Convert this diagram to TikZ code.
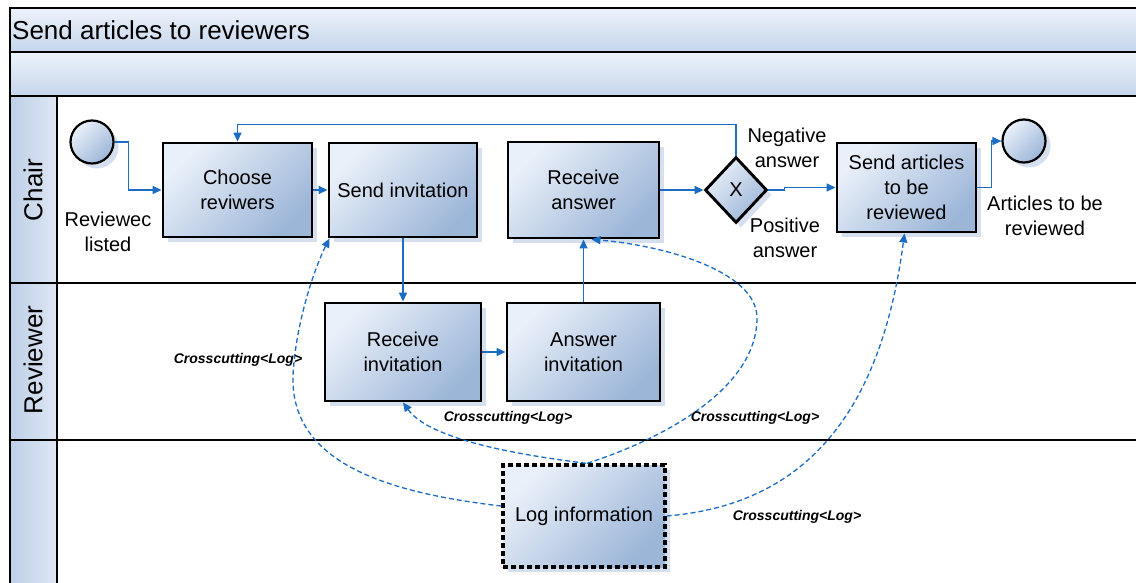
\documentclass[tikz,border=0pt]{standalone}
\usepackage{fontspec}
\setmainfont{Liberation Sans}
\usetikzlibrary{arrows.meta,shapes.geometric}

\definecolor{flowblue}{RGB}{28,108,196}
\definecolor{boxlight}{RGB}{234,240,249}
\definecolor{boxdark}{RGB}{156,182,216}
\definecolor{bandtop}{RGB}{236,242,250}
\definecolor{bandbot}{RGB}{198,214,236}
\definecolor{headl}{RGB}{190,207,231}
\definecolor{headr}{RGB}{222,231,243}
\definecolor{shadowc}{RGB}{214,223,237}

\tikzset{
  x=1pt, y=-1pt,
  boxshadow/.style={preaction={draw=none, fill=shadowc, transform canvas={xshift=5pt, yshift=-5pt}}},
  task/.style={draw=black, line width=2.9pt, top color=boxlight, bottom color=boxdark,
    shading angle=45, align=center, inner sep=0pt, boxshadow,
    font=\fontsize{20}{25}\selectfont},
  logtask/.style={task, line width=3.4pt, dash pattern=on 5pt off 3pt},
  event/.style={circle, draw=black, line width=2.2pt, top color=boxlight, bottom color=boxdark,
    shading angle=45, minimum size=43pt, inner sep=0pt, boxshadow},
  gateway/.style={diamond, draw=black, line width=2.9pt, top color=boxlight, bottom color=boxdark,
    shading angle=45, minimum width=62pt, minimum height=66pt, inner sep=0pt, boxshadow,
    font=\fontsize{20}{24}\selectfont},
  lbl/.style={align=center, font=\fontsize{20}{25}\selectfont, inner sep=0pt},
  xlbl/.style={font=\fontsize{14}{16}\selectfont\bfseries\itshape, inner sep=0pt},
  lanetext/.style={rotate=90, font=\fontsize{26}{30}\selectfont, inner sep=0pt},
  flow/.style={draw=flowblue, line width=1.5pt, -{Triangle[length=9pt,width=8pt]}},
  xflow/.style={draw=flowblue, line width=1.3pt, dash pattern=on 5pt off 3pt,
    -{Triangle[length=9pt,width=8pt]}},
  frame/.style={draw=black, line width=2.6pt},
}

\begin{document}
\begin{tikzpicture}
\useasboundingbox (0,0) rectangle (1136,583);
\clip (0,0) rectangle (1136,583);
\fill[white] (0,0) rectangle (1136,583);

% pool title band and blank band
\shade[top color=bandtop, bottom color=bandbot] (10,8) rectangle (1142,52);
\shade[top color=bandtop, bottom color=bandbot] (10,52) rectangle (1142,96);
% lane headers
\shade[left color=headl, right color=headr] (10,96) rectangle (57,283);
\shade[left color=headl, right color=headr] (10,283) rectangle (57,440);
\shade[left color=headl, right color=headr] (10,440) rectangle (57,590);

% pool and lane borders
\draw[frame] (1142,8) -- (10,8) -- (10,590);
\draw[frame] (10,52) -- (1142,52);
\draw[frame] (10,96) -- (1142,96);
\draw[frame] (10,283) -- (1142,283);
\draw[frame] (10,440) -- (1142,440);
\draw[frame] (57,96) -- (57,590);

\node[anchor=west, font=\fontsize{26}{30}\selectfont, inner sep=0pt] (title) at (12,30) {Send articles to reviewers};
\node[lanetext] (chairlane) at (33,190) {Chair};
\node[lanetext] (reviewerlane) at (33,360) {Reviewer};

% Chair lane
\node[event] (start) at (92,142) {};
\node[lbl] (startlbl) at (108,232) {Reviewec\\listed};
\node[task, minimum width=149pt, minimum height=94pt] (choose) at (237.5,190) {Choose\\reviwers};
\node[task, minimum width=148pt, minimum height=94pt] (sendinv) at (403,190) {Send invitation};
\node[task, minimum width=151pt, minimum height=96pt] (recans) at (583.5,190) {Receive\\answer};
\node[gateway] (gw) at (736,190) {X};
\node[lbl] (neglbl) at (787,148) {Negative\\answer};
\node[lbl] (poslbl) at (785,238) {Positive\\answer};
\node[task, minimum width=139pt, minimum height=89pt] (sendart) at (906.5,187.5) {Send articles\\to be\\reviewed};
\node[event] (end) at (1024,141) {};
\node[lbl] (endlbl) at (1045,216) {Articles to be\\reviewed};

% Reviewer lane
\node[task, minimum width=156pt, minimum height=98pt] (recinv) at (403,352) {Receive\\invitation};
\node[task, minimum width=153pt, minimum height=98pt] (ansinv) at (583.5,352) {Answer\\invitation};

% Aspect lane
\node[logtask, minimum width=162pt, minimum height=102pt] (log) at (584,516) {Log information};

% sequence flows
\draw[flow] (start.east) -- ++(14,0) |- (choose.west);
\draw[flow] (choose) -- (sendinv);
\draw[flow] (sendinv) -- (recinv);
\draw[flow] (recinv) -- (ansinv);
\draw[flow] (ansinv) -- (recans);
\draw[flow] (recans) -- (gw);
\draw[flow] (gw.north) -- ++(0,-31) -| (choose.north);
\draw[flow] (gw.east) -- ++(16,0) |- (sendart.west);
\draw[flow] (sendart.east) -- ++(14,0) |- (end.west);

% crosscutting associations
\draw[xflow] ([yshift=10pt]log.west) .. controls (380,492) and (290,460) .. (293,375)
  .. controls (296,320) and (316,265) .. ([xshift=2pt]sendinv.south west);
\draw[xflow] ([xshift=2pt]log.north) .. controls (520,455) and (430,440) .. (recinv.south);
\draw[xflow] ([xshift=3pt]log.north) .. controls (660,440) and (757,390) .. (757,318)
  .. controls (757,270) and (660,245) .. ([xshift=8pt]recans.south);
\draw[xflow] (log.east) .. controls (800,505) and (880,420) .. ([xshift=-2pt]sendart.south);

\node[xlbl] (x1) at (238,360) {Crosscutting<Log>};
\node[xlbl] (x2) at (508,418) {Crosscutting<Log>};
\node[xlbl] (x3) at (755,418) {Crosscutting<Log>};
\node[xlbl] (x4) at (797,517) {Crosscutting<Log>};
\end{tikzpicture}
\end{document}
